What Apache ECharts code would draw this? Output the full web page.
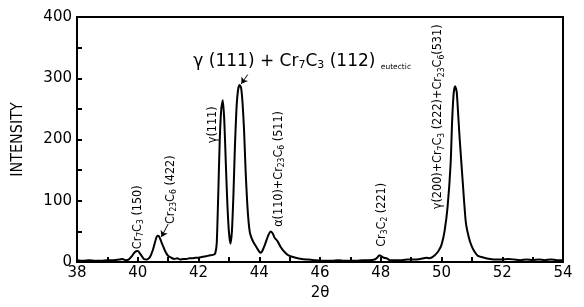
<!DOCTYPE html>
<html>
<head>
<meta charset="utf-8">
<script src="https://cdn.jsdelivr.net/npm/echarts@6/dist/echarts.min.js"></script>
<style>
  html, body { margin: 0; padding: 0; background: #fff; }
  #chart { width: 584px; height: 307px; }
</style>
</head>
<body>
<div id="chart"></div>
<script>
// 2theta positions and intensities
const twoTheta = [
  38.0, 38.2, 38.4, 38.6, 38.8, 39.0, 39.2, 39.4, 39.5, 39.6, 39.7, 39.8, 39.9, 40.0, 40.1, 40.2, 40.3,
  40.4, 40.5, 40.6, 40.65, 40.7, 40.8, 40.9, 41.0, 41.1, 41.2, 41.3, 41.4, 41.5, 41.6, 41.7, 41.8, 41.9,
  42.0, 42.1, 42.2, 42.3, 42.4, 42.5, 42.55, 42.6, 42.65, 42.7, 42.75, 42.8, 42.85, 42.9, 42.95, 43.0,
  43.05, 43.1, 43.15, 43.2, 43.25, 43.3, 43.35, 43.4, 43.45, 43.5, 43.55, 43.6, 43.65, 43.7, 43.8, 43.9,
  44.0, 44.05, 44.1, 44.2, 44.3, 44.38, 44.45, 44.5, 44.6, 44.7, 44.8, 44.9, 45.0, 45.2, 45.4, 45.6,
  45.8, 46.0, 46.2, 46.4, 46.6, 46.8, 47.0, 47.2, 47.4, 47.6, 47.8, 47.9, 47.95, 48.0, 48.1, 48.2, 48.3,
  48.5, 48.7, 48.9, 49.1, 49.3, 49.5, 49.6, 49.7, 49.8, 49.9, 50.0, 50.1, 50.2, 50.3, 50.35, 50.4, 50.45,
  50.5, 50.55, 50.6, 50.7, 50.8, 50.9, 51.0, 51.1, 51.2, 51.4, 51.6, 51.8, 52.0, 52.2, 52.4, 52.6, 52.8,
  53.0, 53.2, 53.4, 53.6, 53.8, 54.0
];
const intensity = [
  3, 2, 3, 2, 2, 3, 3, 4, 5, 3, 4, 9, 16, 18, 12, 5, 4,
  8, 20, 38, 43, 42, 30, 18, 10, 7, 5, 6, 4, 5, 5, 6, 6, 7,
  7, 8, 9, 10, 11, 12, 14, 30, 110, 200, 250, 264, 230, 160, 95, 50,
  30, 50, 110, 190, 250, 280, 289, 285, 260, 215, 150, 100, 65, 46, 33, 25,
  17, 15, 18, 30, 44, 50, 46, 40, 34, 25, 18, 13, 10, 7, 5, 4,
  3, 2, 2, 2, 3, 2, 2, 2, 3, 3, 4, 8, 11, 10, 7, 6, 3,
  3, 3, 4, 4, 5, 7, 6, 8, 12, 18, 28, 50, 90, 160, 230, 275, 287,
  278, 240, 200, 130, 65, 40, 25, 16, 10, 7, 5, 4, 4, 5, 4, 3, 4,
  3, 4, 3, 4, 3, 3
];

// peak annotations: rich text and [2theta, intensity] of the label centre
const peakLabels = [
  '{n|Cr}{s|7}{n|C}{s|3}{n| (150)}',
  '{n|Cr}{s|23}{n|C}{s|6}{n| (422)}',
  '{n|γ(111)}',
  '{n|α(110)+Cr}{s|23}{n|C}{s|6}{n| (511)}',
  '{n|Cr}{s|3}{n|C}{s|2}{n| (221)}',
  '{n|γ(200)+Cr}{s|7}{n|C}{s|3}{n| (222)+Cr}{s|23}{n|C}{s|6}{n|(531)}'
];
const peakLabelPos = [[40.0, 73], [41.07, 118], [42.46, 224], [44.63, 152], [48.03, 77], [49.88, 237]];
const eutecticLabel = '{m|γ (111) + Cr}{t|7}{m|C}{t|3}{m| (112) }{e|eutectic}';
const eutecticPos = [41.83, 328];
const arrows = [
  [[41.0, 62], [40.78, 41]],
  [[43.62, 306], [43.41, 291]]
];

const narrow = 'DejaVu Sans Condensed, Liberation Sans Narrow, DejaVu Sans';
const rich = {
  n: { fontFamily: narrow, fontSize: 12.5, lineHeight: 16, color: '#000' },
  s: { fontFamily: narrow, fontSize: 8.5, lineHeight: 9, verticalAlign: 'bottom', color: '#000' },
  m: { fontFamily: 'DejaVu Sans', fontSize: 17, lineHeight: 20, color: '#000' },
  t: { fontFamily: 'DejaVu Sans', fontSize: 11, lineHeight: 11, verticalAlign: 'bottom', color: '#000' },
  e: { fontFamily: 'DejaVu Sans', fontSize: 7.5, lineHeight: 7, verticalAlign: 'bottom', color: '#000' }
};

const chart = echarts.init(document.getElementById('chart'));

const markData = peakLabels.map((txt, i) => ({
  coord: peakLabelPos[i],
  label: { formatter: txt, rotate: 90 }
}));
markData.push({
  coord: eutecticPos,
  label: { formatter: eutecticLabel, rotate: 0, align: 'left' }
});

chart.setOption({
  animation: false,
  grid: {
    left: 77, right: 21, top: 17, bottom: 45,
    show: true, borderColor: '#000', borderWidth: 2
  },
  xAxis: {
    type: 'value',
    min: 38, max: 54, interval: 1,
    name: '2θ', nameLocation: 'middle', nameGap: 22,
    nameTextStyle: { fontFamily: 'DejaVu Sans', fontSize: 15, color: '#000' },
    axisLine: { lineStyle: { color: '#000', width: 2 } },
    axisTick: { inside: true, length: 5, lineStyle: { color: '#000', width: 2 } },
    axisLabel: {
      margin: 4,
      fontFamily: 'DejaVu Sans', fontSize: 15, color: '#000',
      formatter: v => (v % 2 === 0 ? v : '')
    },
    splitLine: { show: false }
  },
  yAxis: {
    type: 'value',
    min: 0, max: 400, interval: 50,
    name: 'INTENSITY', nameLocation: 'middle', nameGap: 51, nameRotate: 90,
    nameTextStyle: { fontFamily: narrow, fontSize: 16, color: '#000' },
    axisLine: { lineStyle: { color: '#000', width: 2 } },
    axisTick: { inside: true, length: 5, lineStyle: { color: '#000', width: 2 } },
    axisLabel: {
      margin: 5,
      fontFamily: 'DejaVu Sans', fontSize: 15, color: '#000',
      formatter: v => (v % 100 === 0 ? v : '')
    },
    splitLine: { show: false }
  },
  series: [{
    type: 'line',
    data: twoTheta.map((x, i) => [x, intensity[i]]),
    showSymbol: false,
    smooth: 0.2,
    lineStyle: { color: '#000', width: 2 },
    markPoint: {
      symbol: 'circle', symbolSize: 0,
      label: { show: true, position: 'inside', align: 'center', verticalAlign: 'middle', rich: rich },
      data: markData
    },
    markLine: {
      silent: true,
      symbol: ['none', 'arrow'], symbolSize: 6,
      label: { show: false },
      lineStyle: { color: '#000', width: 1, type: 'solid' },
      data: arrows.map(a => [{ coord: a[0] }, { coord: a[1] }])
    }
  }]
});
</script>
</body>
</html>
